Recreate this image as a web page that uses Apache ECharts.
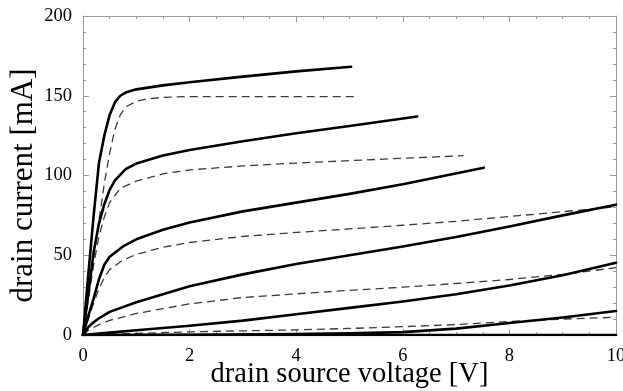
<!DOCTYPE html>
<html>
<head>
<meta charset="utf-8">
<script src="https://cdn.jsdelivr.net/npm/echarts@6/dist/echarts.min.js"></script>
<style>
html, body { margin: 0; padding: 0; background: #fff; }
#chart { width: 623px; height: 391px; }
</style>
</head>
<body>
<div id="chart"></div>
<script>
// solid curves (measured)
const s1X = [0, 0.1, 0.2, 0.3, 0.4, 0.5, 0.6, 0.7, 0.8, 1, 1.5, 2, 3, 4, 5.03]
const s1Y = [0, 38, 75, 108, 125, 138, 146, 150, 152, 154, 156.5, 158.5, 162, 165.3, 168.2]
const s2X = [0, 0.1, 0.2, 0.3, 0.4, 0.5, 0.6, 0.8, 1, 1.5, 2, 3, 4, 5, 6.27]
const s2Y = [0, 26, 52, 70, 82, 91, 97, 104, 107.5, 112.5, 116, 121.5, 126.5, 131, 137]
const s3X = [0, 0.1, 0.2, 0.3, 0.4, 0.5, 0.75, 1, 1.5, 2, 3, 4, 5, 6, 7.52]
const s3Y = [0, 12, 23, 35, 44, 49, 55.5, 60, 66, 70.5, 77.5, 83, 88.5, 94.5, 104.9]
const s4X = [0, 0.1, 0.2, 0.3, 0.5, 1, 1.5, 2, 3, 4, 5, 6, 7, 8, 9, 10]
const s4Y = [0, 5, 8, 10.5, 14.5, 20.5, 25.5, 30.5, 38, 44.5, 50, 55.5, 61.5, 68, 75, 81.7]
const s5X = [0, 0.5, 1, 2, 3, 4, 5, 6, 7, 8, 9, 10]
const s5Y = [0, 1.5, 3, 5.8, 9, 13, 17, 21, 25.5, 31, 37.5, 45.3]
const s6X = [0, 2, 4, 5, 6, 7, 8, 9, 10]
const s6Y = [0, 0.2, 0.6, 1, 1.8, 4, 7.5, 11, 15]
const s7X = [0, 10]
const s7Y = [0, 0]

// dashed curves (measured)
const d1X = [0, 0.1, 0.2, 0.3, 0.4, 0.5, 0.6, 0.7, 0.8, 1, 1.2, 1.5, 2, 5.16]
const d1Y = [0, 24, 48, 72, 95, 114, 129, 138, 143, 146.5, 148, 149, 149.5, 149.4]
const d2X = [0, 0.1, 0.2, 0.3, 0.4, 0.5, 0.7, 1, 1.5, 2, 3, 4, 5, 6, 7.14]
const d2Y = [0, 22, 44, 62, 74, 83, 92, 96.5, 101, 103.5, 106, 107.8, 109.3, 110.8, 112.4]
const d3X = [0, 0.1, 0.2, 0.3, 0.4, 0.5, 0.75, 1, 1.5, 2, 3, 4, 5, 6, 7, 8, 9, 10]
const d3Y = [0, 10, 20, 29, 36, 41, 47, 50.5, 55, 58, 61.8, 64.3, 66.5, 68.8, 71.3, 74.3, 77.3, 80.4]
const d4X = [0, 0.1, 0.3, 0.5, 1, 1.5, 2, 3, 4, 5, 6, 7, 8, 9, 10]
const d4Y = [0, 3, 6.5, 9.2, 13.5, 16.5, 19.5, 23.5, 25.8, 28, 30, 32.3, 34.8, 38, 42.2]
const d5X = [0, 1, 2, 3, 4, 5, 6, 7, 8, 9, 10]
const d5Y = [0, 1, 2, 2.6, 3.2, 4.1, 5.2, 6.5, 8.5, 10, 11.1]

const solids = [[s1X, s1Y], [s2X, s2Y], [s3X, s3Y], [s4X, s4Y], [s5X, s5Y], [s6X, s6Y], [s7X, s7Y]]
const dashes = [[d1X, d1Y], [d2X, d2Y], [d3X, d3Y], [d4X, d4Y], [d5X, d5Y]]

const zip = (xs, ys) => xs.map((x, i) => [x, ys[i]])
const font = 'Liberation Serif'
const frame = '#9a9a9a'

const chart = echarts.init(document.getElementById('chart'))

const series = []
dashes.forEach(([xs, ys]) => {
  series.push({
    type: 'line',
    data: zip(xs, ys),
    smooth: false,
    showSymbol: false,
    silent: true,
    lineStyle: { color: '#3a3a3a', width: 1.3, type: [8, 5], join: 'round' },
  })
})
solids.forEach(([xs, ys]) => {
  series.push({
    type: 'line',
    data: zip(xs, ys),
    smooth: false,
    showSymbol: false,
    silent: true,
    lineStyle: { color: '#000', width: 2.6, join: 'round', cap: 'round' },
  })
})

const xBase = {
  type: 'value',
  min: 0,
  max: 10,
  interval: 2,
  axisLine: { show: true, onZero: false, lineStyle: { color: frame, width: 1 } },
  axisTick: { show: true, inside: true, length: 6, lineStyle: { color: frame } },
  minorTick: { show: true, splitNumber: 4, length: 3, lineStyle: { color: frame } },
  splitLine: { show: false },
}
const yBase = {
  type: 'value',
  min: 0,
  max: 200,
  interval: 50,
  axisLine: { show: true, onZero: false, lineStyle: { color: frame, width: 1 } },
  axisTick: { show: true, inside: true, length: 6, lineStyle: { color: frame } },
  minorTick: { show: true, splitNumber: 5, length: 3, lineStyle: { color: frame } },
  splitLine: { show: false },
}

chart.setOption({
  animation: false,
  grid: { left: 83, right: 7, top: 16, bottom: 56, outerBoundsMode: 'none' },
  xAxis: [
    Object.assign({}, xBase, {
      position: 'bottom',
      name: 'drain source voltage [V]',
      nameLocation: 'middle',
      nameGap: 25,
      nameMoveOverlap: false,
      nameTextStyle: { fontFamily: font, fontSize: 28.5, color: '#000' },
      axisLabel: { fontFamily: font, fontSize: 18.5, color: '#000', margin: 12 },
    }),
    Object.assign({}, xBase, { position: 'top', axisLabel: { show: false } }),
  ],
  yAxis: [
    Object.assign({}, yBase, {
      position: 'left',
      name: 'drain current [mA]',
      nameLocation: 'middle',
      nameGap: 44,
      nameMoveOverlap: false,
      nameTextStyle: { fontFamily: font, fontSize: 31, color: '#000', padding: [0, 20, 0, 0] },
      axisLabel: { fontFamily: font, fontSize: 18.5, color: '#000', margin: 11 },
    }),
    Object.assign({}, yBase, { position: 'right', axisLabel: { show: false } }),
  ],
  series: series,
})
</script>
</body>
</html>
